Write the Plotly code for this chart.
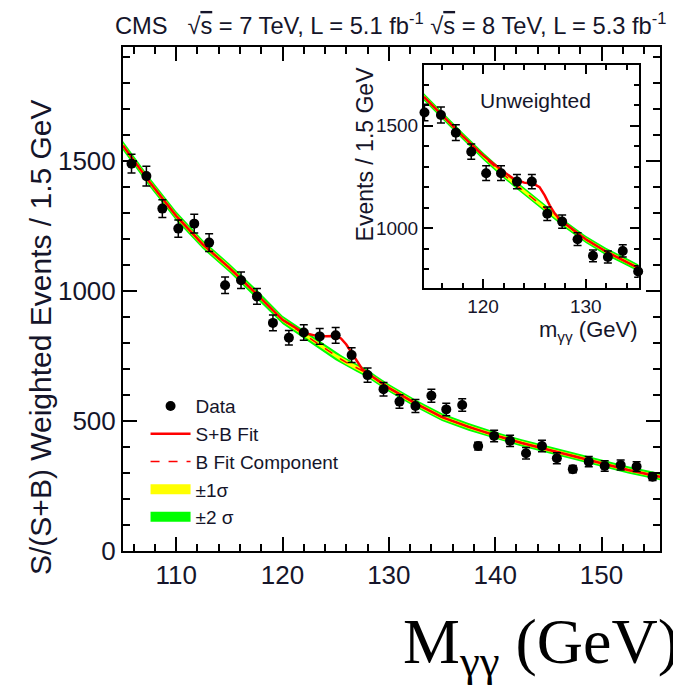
import plotly.graph_objects as go

# ---------------- main panel data (S/(S+B) weighted) ----------------
mass = [105.8, 107.2, 108.7, 110.2, 111.7, 113.1, 114.6, 116.1, 117.6, 119.1,
        120.6, 122.0, 123.5, 125.0, 126.5, 128.0, 129.5, 131.0, 132.5, 134.0,
        135.4, 136.9, 138.4, 139.9, 141.4, 142.9, 144.4, 145.8, 147.3, 148.8,
        150.3, 151.8, 153.3, 154.8]
weighted = [1491, 1443, 1318, 1241, 1260, 1187, 1023, 1042, 980, 878,
            821, 841, 826, 830, 754, 677, 623, 575, 558, 598,
            545, 562, 404, 443, 424, 376, 404, 357, 315, 344,
            327, 331, 325, 286]
weighted_err = [36, 38, 34, 33, 36, 34, 32, 32, 30, 30,
                28, 30, 30, 30, 28, 27, 26, 26, 25, 25,
                24, 24, 15, 22, 22, 22, 22, 21, 14, 20,
                20, 19, 19, 15]

fit_x = [105, 107.5, 110, 112.5, 115, 117.5, 120, 121, 122, 123, 124, 125,
         125.5, 126, 126.5, 127, 127.5, 128, 129, 130, 132.5, 135, 137.5,
         140, 142.5, 145, 147.5, 150, 152.5, 155.5]
bkg_fit = [1560, 1420, 1290, 1180, 1090, 992, 890, 862, 833, 805, 778, 750,
           738, 726, 715, 705, 694, 683, 655, 628, 568, 515, 478,
           445, 416, 390, 364, 336, 312, 286]
sb_fit = [1560, 1420, 1290, 1180, 1090, 992, 890, 864, 840, 830, 827, 828,
          818, 795, 764, 730, 700, 684, 655, 628, 568, 515, 478,
          445, 416, 390, 364, 336, 312, 286]
sig1 = [9, 9, 9, 9, 9, 8, 8, 8, 8, 8, 8, 8,
        8, 8, 8, 8, 8, 8, 8, 8, 8, 8, 7,
        7, 7, 7, 7, 7, 7, 7]
sig2 = [18, 18, 18, 17, 17, 17, 16, 16, 16, 16, 16, 16,
        16, 16, 16, 16, 16, 16, 15, 15, 15, 15, 15,
        14, 14, 14, 14, 14, 14, 14]

x_ticks = [110, 120, 130, 140, 150]
y_ticks = [0, 500, 1000, 1500]

# ---------------- inset data (unweighted) ----------------
ins_mass = [114.3, 115.9, 117.35, 118.85, 120.3, 121.75, 123.3, 124.75, 126.25,
            127.7, 129.2, 130.7, 132.15, 133.6, 135.1]
ins_events = [1564, 1552, 1466, 1373, 1268, 1268, 1227, 1227, 1070,
              1032, 946, 865, 859, 889, 789]
ins_err = [40, 39, 38, 37, 36, 36, 35, 35, 33, 32, 31, 29, 29, 30, 28]

ins_fit_x = [114.25, 116, 118, 120, 121, 122, 123, 124, 125, 125.5, 126, 126.5,
             127, 127.5, 128, 130, 132, 134, 135.15]
ins_bkg = [1640, 1550, 1450, 1352, 1306, 1262, 1220, 1180, 1140, 1120, 1098, 1078,
           1058, 1038, 1018, 945, 885, 835, 805]
ins_sb = [1640, 1550, 1450, 1355, 1315, 1275, 1240, 1222, 1215, 1200, 1160, 1110,
          1070, 1042, 1022, 946, 885, 835, 805]
ins_sig1 = [9, 9, 9, 9, 9, 9, 9, 9, 9, 9, 9, 9, 9, 9, 9, 9, 9, 9, 9]
ins_sig2 = [18, 18, 18, 18, 18, 18, 18, 18, 18, 18, 18, 18, 18, 18, 18, 18, 18, 18, 18]
ins_x_ticks = [120, 130]
ins_y_ticks = [1000, 1500]

SANS = "Liberation Sans, Arial, Helvetica, sans-serif"
SERIF = "Liberation Serif, Times New Roman, serif"
TXT = "#15152a"
RED = "#ff0000"
YEL = "#ffff00"
GRN = "#00ff00"

fig = go.Figure()


def add_bands(x, center, s1, s2, xa, ya):
    lo2 = [c - s for c, s in zip(center, s2)]
    hi2 = [c + s for c, s in zip(center, s2)]
    lo1 = [c - s for c, s in zip(center, s1)]
    hi1 = [c + s for c, s in zip(center, s1)]
    for lo, hi, col in ((lo2, hi2, GRN), (lo1, hi1, YEL)):
        fig.add_trace(go.Scatter(x=x, y=lo, mode="lines", line=dict(width=0, color=col),
                                 showlegend=False, hoverinfo="skip", xaxis=xa, yaxis=ya))
        fig.add_trace(go.Scatter(x=x, y=hi, mode="lines", line=dict(width=0, color=col),
                                 fill="tonexty", fillcolor=col, showlegend=False,
                                 hoverinfo="skip", xaxis=xa, yaxis=ya))


# main bands and curves
add_bands(fit_x, bkg_fit, sig1, sig2, "x", "y")
fig.add_trace(go.Scatter(x=fit_x, y=bkg_fit, mode="lines", name="B Fit Component",
                         line=dict(color=RED, width=1.5, dash="dash"), legendrank=3))
fig.add_trace(go.Scatter(x=fit_x, y=sb_fit, mode="lines", name="S+B Fit",
                         line=dict(color=RED, width=2.5), legendrank=2))
fig.add_trace(go.Scatter(x=mass, y=weighted, mode="markers", name="Data",
                         marker=dict(color="black", size=10),
                         error_y=dict(type="data", array=weighted_err, color="black",
                                      thickness=1.5, width=4),
                         legendrank=1))
# legend-only entries for the bands
fig.add_trace(go.Scatter(x=[None], y=[None], mode="lines", name="±1σ",
                         line=dict(color=YEL, width=14), legendrank=4))
fig.add_trace(go.Scatter(x=[None], y=[None], mode="lines", name="±2 σ",
                         line=dict(color=GRN, width=14), legendrank=5))

# inset bands and curves
add_bands(ins_fit_x, ins_bkg, ins_sig1, ins_sig2, "x2", "y2")
fig.add_trace(go.Scatter(x=ins_fit_x, y=ins_bkg, mode="lines", showlegend=False,
                         line=dict(color=RED, width=1.5, dash="dash"), xaxis="x2", yaxis="y2"))
fig.add_trace(go.Scatter(x=ins_fit_x, y=ins_sb, mode="lines", showlegend=False,
                         line=dict(color=RED, width=2.5), xaxis="x2", yaxis="y2"))
fig.add_trace(go.Scatter(x=ins_mass, y=ins_events, mode="markers", showlegend=False,
                         marker=dict(color="black", size=10), cliponaxis=False,
                         error_y=dict(type="data", array=ins_err, color="black",
                                      thickness=1.5, width=4),
                         xaxis="x2", yaxis="y2"))

common = dict(showline=True, linecolor="black", linewidth=2, mirror="allticks",
              ticks="inside", tickcolor="black", tickwidth=1.5, showgrid=False,
              zeroline=False)

# page body has an 8px margin: figure is 8px smaller and margins are shifted accordingly
fig.update_layout(
    width=673, height=683,
    margin=dict(l=115, r=21, t=39, b=140),
    paper_bgcolor="white", plot_bgcolor="rgba(0,0,0,0)",
    font=dict(family=SANS, color=TXT),
    xaxis=dict(domain=[0, 1], range=[105, 155.5], tickmode="array", tickvals=x_ticks,
               ticklen=14, tickfont=dict(size=26, family=SANS, color=TXT),
               minor=dict(ticks="inside", dtick=2, tick0=0, ticklen=7, tickwidth=1.5,
                          tickcolor="black"),
               anchor="y", **common),
    yaxis=dict(domain=[0, 1], range=[0, 1940], tickmode="array", tickvals=y_ticks,
               ticklen=14, tickfont=dict(size=26, family=SANS, color=TXT),
               minor=dict(ticks="inside", dtick=100, tick0=0, ticklen=7, tickwidth=1.5,
                          tickcolor="black"),
               anchor="x", **common),
    xaxis2=dict(domain=[0.5605, 0.9603], range=[114.25, 135.15], tickmode="array",
                tickvals=ins_x_ticks, ticklen=9,
                tickfont=dict(size=19, family=SANS, color=TXT),
                minor=dict(ticks="inside", dtick=2, tick0=0, ticklen=5, tickwidth=1.5,
                           tickcolor="black"),
                anchor="y2", **common),
    yaxis2=dict(domain=[0.5218, 0.9643], range=[708, 1796], tickmode="array",
                tickvals=ins_y_ticks, ticklen=9,
                tickfont=dict(size=19, family=SANS, color=TXT),
                minor=dict(ticks="inside", dtick=100, tick0=0, ticklen=5, tickwidth=1.5,
                           tickcolor="black"),
                anchor="x2", **common),
    legend=dict(x=0.042, y=0.325, xanchor="left", yanchor="top", bgcolor="rgba(0,0,0,0)",
                font=dict(size=19, family=SANS, color=TXT), traceorder="normal",
                tracegroupgap=0, itemwidth=40),
    showlegend=True,
)

annots = [
    dict(text="CMS &nbsp; √<span style='text-decoration:overline'>s</span> = 7 TeV, L = 5.1 fb<sup>-1</sup> "
              "√<span style='text-decoration:overline'>s</span> = 8 TeV, L = 5.3 fb<sup>-1</sup>",
         x=-0.018, y=1.0456, xanchor="left", yanchor="middle", font=dict(size=23.7)),
    dict(text="S/(S+B) Weighted Events / 1.5 GeV", textangle=-90,
         x=-0.1546, y=0.4246, xanchor="center", yanchor="middle", font=dict(size=30)),
    dict(text="Events / 1.5 GeV", textangle=-90,
         x=0.4507, y=0.787, xanchor="center", yanchor="middle", font=dict(size=23)),
    dict(text="m<sub>γγ</sub> (GeV)", x=0.962, y=0.4375, xanchor="right", yanchor="middle",
         font=dict(size=22)),
    dict(text="Unweighted", x=0.7685, y=0.8948, xanchor="center", yanchor="middle",
         font=dict(size=21)),
    dict(text="M<sub>γγ</sub> (GeV)", x=1.039, y=-0.1875, xanchor="right", yanchor="middle",
         font=dict(size=64, family=SERIF, color="black")),
]
for a in annots:
    a.update(xref="paper", yref="paper", showarrow=False)
    if "color" not in a["font"]:
        a["font"]["color"] = TXT
    if "family" not in a["font"]:
        a["font"]["family"] = SANS
    fig.add_annotation(**a)

fig.write_html("out.html", config={"displayModeBar": False})
